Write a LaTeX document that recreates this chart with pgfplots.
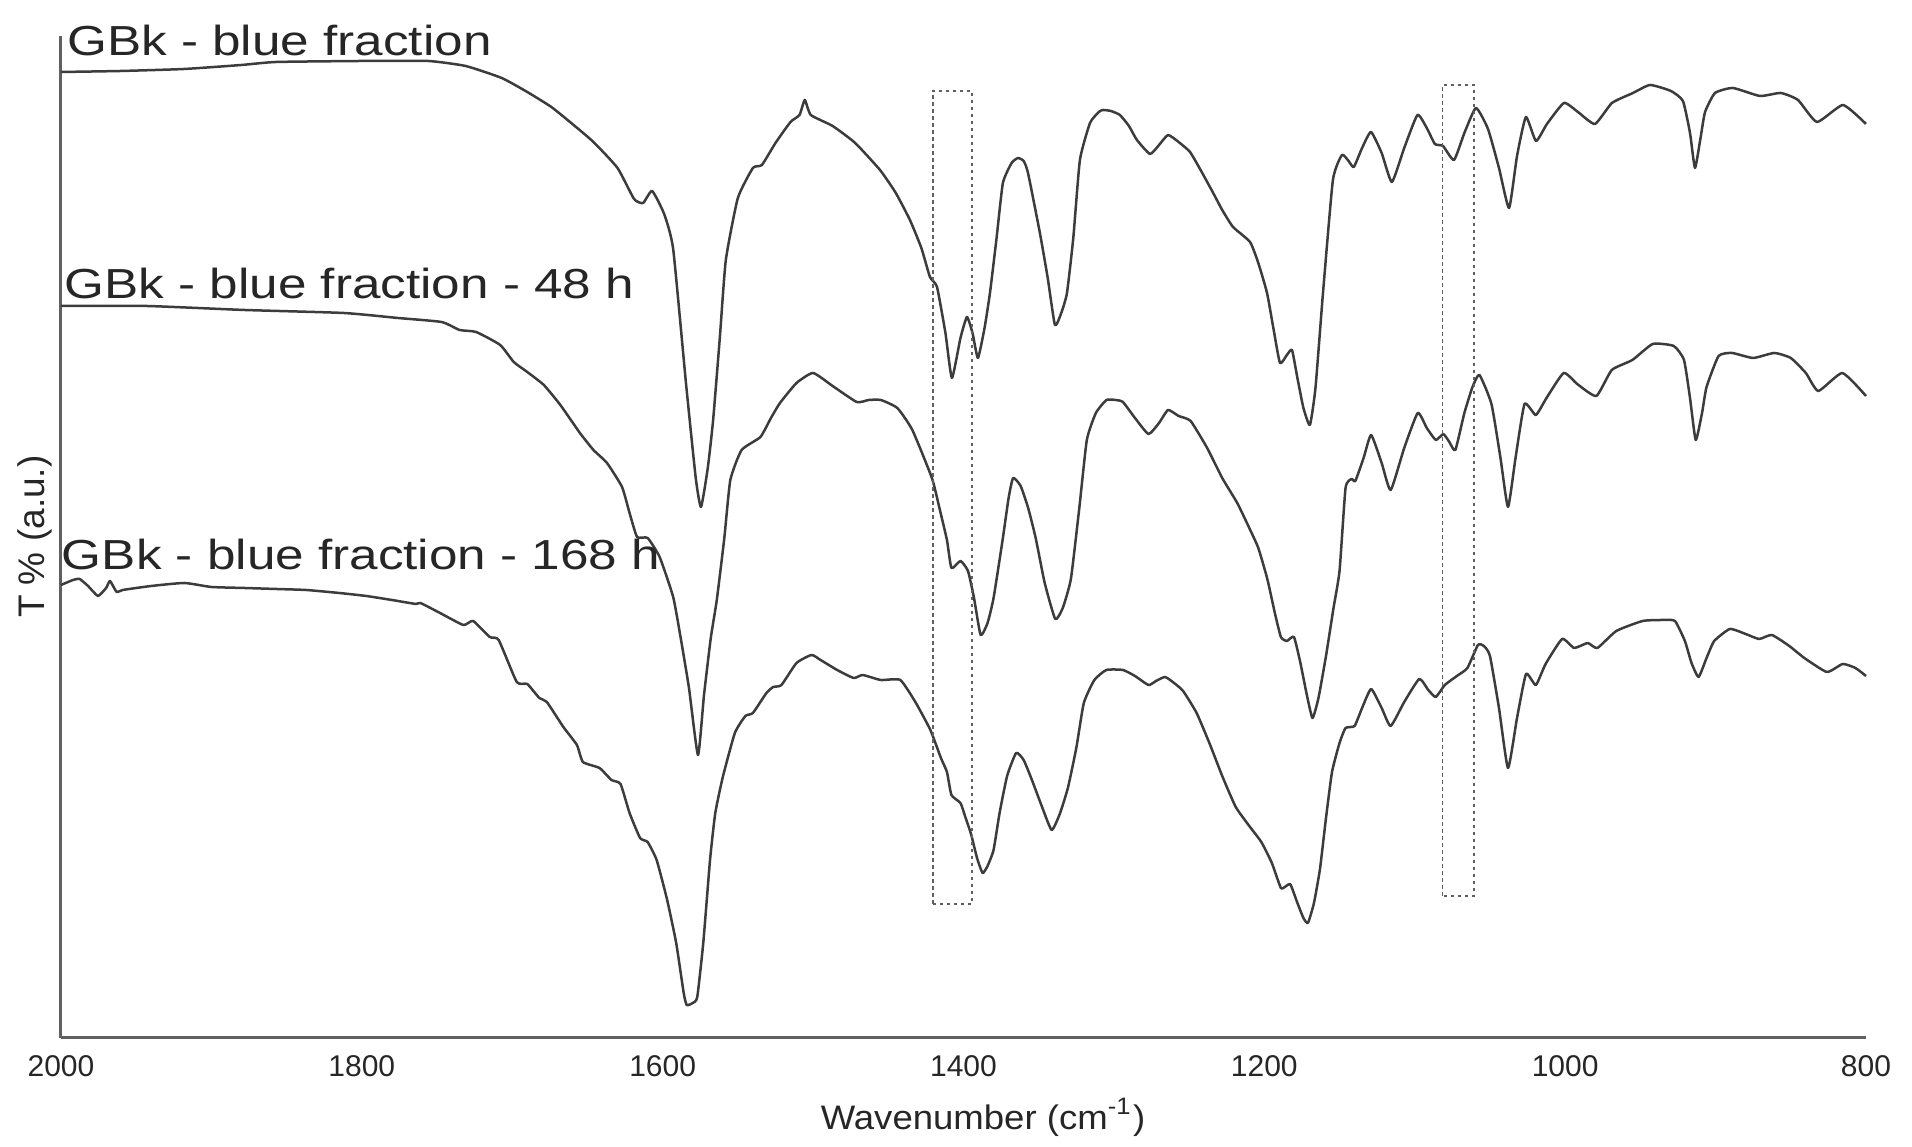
\documentclass[border=0pt]{standalone}
\usepackage{fontspec}
\setmainfont{Liberation Sans}
\newfontfamily\labfont[FakeStretch=1.22]{Liberation Sans}
\newfontfamily\axfont[FakeStretch=1.075]{Liberation Sans}
\usepackage{pgfplots}
\pgfplotsset{compat=1.18}
\definecolor{curve}{HTML}{3C3C3C}
\definecolor{spine}{HTML}{606060}
\pgfplotsset{spec/.style={color=curve, line width=0.5pt, mark=none, line join=round, smooth, tension=0.3}}
\begin{document}
\begin{tikzpicture}
\useasboundingbox (-12.2pt,-21.8pt) rectangle (370.2pt,207.6pt);
\begin{axis}[
  scale only axis,
  width=361pt, height=200.4pt,
  x dir=reverse,
  xmin=800, xmax=2000, ymin=0, ymax=1002,
  axis x line=bottom, axis y line=left,
  axis line style={-, spine, line width=0.6pt},
  xtick={800,1000,...,2000}, ytick=\empty,
  major tick length=0pt,
  /pgf/number format/assume math mode=true,
  /pgf/number format/1000 sep={},
  xticklabel style={font=\fontsize{6}{7}\selectfont, anchor=north, inner sep=0pt, yshift=-3.4pt, text=black!85},
  clip=false,
]
% Curve 1: GBk - blue fraction
\addplot[spec] coordinates {
(2000,966)(1960,967)(1918,969)(1880,973)(1857,976)(1800,977)(1756,977)(1731,972)(1707,960)(1690,946)
(1674,931)(1660,914)(1646,896)(1630,870)(1619,839)(1613,835)(1607,847)(1599,824)(1593,789)(1584.5,655)
(1578,560)(1574.5,531)(1570,570)(1566.5,617)(1562,700)(1558,778)(1550,840)(1540,870)(1534,873)(1525,895)
(1515,916)(1509,923)(1505.5,938)(1501.5,923)(1487,912)(1472,895)(1455.5,868)(1445,845)(1435.6,818)(1428,790)
(1422.3,761)(1417.6,751)(1412,705)(1407.7,660)(1402,700)(1397.7,721)(1394,705)(1390.4,680)(1386,710)(1382.4,745)
(1378,800)(1373.8,855)(1368,875)(1363.8,880)(1360,877)(1357.1,865)(1349.2,805)(1344,760)(1339.2,713)(1335,725)
(1331.2,745)(1327,800)(1322.6,878)(1315.9,915)(1310,926)(1307.3,928)(1302,927)(1296,923)(1290,912)(1284.7,898)
(1276,884)(1270,893)(1264,903)(1257,896)(1249.4,886)(1242,867)(1234,845)(1228,828)(1220.8,811)(1209.5,796)
(1204,775)(1198.2,745)(1194,710)(1189.6,675)(1185,683)(1181.6,688)(1178,660)(1174,630)(1169.7,613)(1166,650)
(1161,745)(1154.4,858)(1148.4,883)(1144,877)(1140.5,871)(1135,890)(1129.1,906)(1122,885)(1115.2,856)(1107,890)
(1098.2,923)(1092,910)(1086.6,894)(1081.2,892)(1073.9,878)(1067,905)(1059.3,930)(1051.3,909)(1044,870)(1037.3,830)
(1032,882)(1026.1,921)(1019.4,897)(1012.1,914)(1000.8,935)(991.5,926)(980.2,914)(968.9,935)(954.9,945)(943.6,953)
(929.7,947)(921.7,937)(917,905)(913.7,870)(910,900)(907,926)(900.4,945)(888.5,950)(870.5,942)(856.7,945)
(845.2,938)(832.6,916)(815.3,933)(800,914)
};
% Curve 2: 48 h
\addplot[spec] coordinates {
(2000,732)(1943,732)(1878,728)(1812,725)(1776,720)(1747,716)(1735,708)(1724,706)(1708,693)(1699,676)
(1690,666)(1679,653)(1668,633)(1655,605)(1646,588)(1637,575)(1627,551)(1622,525)(1617,501)(1610,500)
(1602,481)(1593,441)(1588,400)(1582.5,350)(1576.5,283)(1572.5,343)(1568,400)(1564,438)(1559,500)(1555,558)
(1547.5,588)(1535,601)(1528,620)(1522,635)(1511,655)(1500,665)(1487,652)
(1471,636)(1463,638)(1455,638)(1444,630)(1434,608)(1421,560)(1416,530)(1411,498)(1408,470)(1402,477)
(1397,467)(1393,440)(1388.6,403)(1384,415)(1380,440)(1374,498)(1370,540)(1367,560)(1362,552)(1357,530)
(1352,500)(1346,455)(1339,419)(1334,430)(1328.6,459)(1323,530)(1318,598)(1312,625)(1305,638)(1299,638)
(1294,636)(1286,620)(1277,604)(1270,615)(1264,628)(1257,622)(1249,617)(1238,590)(1228,560)(1218,535)
(1210,510)(1204,490)(1198,459)(1193,425)(1189,401)(1185,397)(1180.3,401)(1176,375)(1172,345)(1168,320)
(1164,340)(1159,382)(1154,430)(1150,467)(1146,550)(1142,559)(1139.5,557)(1134,580)(1129,603)(1122,575)
(1116,548)(1107,590)(1098,625)(1092,610)(1086,598)(1081,604)(1077,596)(1073,588)(1067,625)(1061.6,651)
(1057,663)(1049,634)(1043,580)(1038,531)(1033,580)(1027,634)(1019.5,623)(1012.4,640)(1001,665)(992,654)
(979.3,642)(969,668)(955.3,678)(941.8,694)(927.8,692)(921,678)(917,640)(913.2,598)(909,625)(906,651)
(898,682)(889,685)(875,680)(861,685)(850,680)(840,665)(831.7,647)(815.7,665)(800,642)
};
% Curve 3: 168 h
\addplot[spec] coordinates {
(2000,453)(1992,458)(1987.6,459)(1982,452)(1975.4,442)(1970,450)(1967.4,457)(1963,446)(1959,448)(1940,452)
(1918,455)(1900,451)(1878,450)(1857,449)(1837,448)(1815,445)(1797,442)(1780,438)(1764,434)(1761,435)
(1748,425)(1732.5,413)(1726,417)(1715,401)(1709,398)(1697,356)(1690,354)(1682,340)(1677,336)(1666,311)
(1657,293)(1653,276)(1642,270)(1634,258)(1628,254)(1622,225)(1615,200)(1610,196)(1604,178)(1597,138)
(1591,95)(1586,45)(1584,33)(1580,35)(1577,41)(1573,95)(1568.5,178)(1565,225)(1560,261)(1552,305)
(1545,322)(1540,325)(1531,345)(1526.5,351)(1521,353)(1511,375)(1501,383)(1495,378)(1484,368)(1473,360)
(1467,363)(1455,358)(1442,358)(1432,336)(1422,308)
(1415,280)(1411,266)(1408,243)(1402,235)(1399,222)(1395,204)(1391,180)(1387.3,165)(1384,172)(1380,188)
(1376,225)(1371,262)(1365,285)(1360,278)(1354.5,258)(1348,232)(1341.4,208)(1336,224)(1330.6,250)(1325,290)
(1320,335)(1313,358)(1305,368)(1294,368)(1286,362)(1277,353)(1272,357)(1266,361)(1260,355)(1254,347)
(1245,325)(1236,293)(1228,262)(1219,231)(1210,212)(1202,196)(1195,175)(1189,150)(1185.5,152)(1182.6,153.5)
(1178,135)(1174,120)(1171,115)(1167,135)(1163,169)(1159,220)(1155,266)(1150,295)(1146,310)(1140,312)
(1135,330)(1129,349)(1122,330)(1116,312)(1107,336)(1097,359)(1091,348)(1086,341)(1080,353)(1072,362)
(1065,370)(1058,393)(1054,392)(1050,382)(1044,330)(1038,270)(1032,320)(1026,364)(1019.5,353)(1013,374)
(1002,399)(994,390)(985,395)(978.6,390)(966,407)(948.5,417)(935,418)(927,417)(920.4,397)(916,375)
(911.3,361)(906,380)(900.9,397)(890.5,409)(880,404)(871,399)(862.6,403)(851,392)(841,380)(826,366)
(815.5,374)(807,370)(800,362)
};
% dashed boxes
\addplot[spine, line width=0.3pt, mark=none, dash pattern=on 0.7pt off 0.7pt] coordinates {
(1420.3,134)(1420.3,947)(1394.3,947)(1394.3,134)(1420.3,134)};
\addplot[spine, line width=0.3pt, mark=none, dash pattern=on 0.7pt off 0.7pt] coordinates {
(1081.5,142)(1081.5,953)(1060.7,953)(1060.7,142)(1081.5,142)};
% labels
\node[anchor=base west, inner sep=0pt, font=\labfont\fontsize{8.4}{9}\selectfont, text=black!85] at (axis cs:1996.5,982.5) {GBk - blue fraction};
\node[anchor=base west, inner sep=0pt, font=\labfont\fontsize{8.4}{9}\selectfont, text=black!85] at (axis cs:1998.2,739.5) {GBk - blue fraction - 48 h};
\node[anchor=base west, inner sep=0pt, font=\labfont\fontsize{8.4}{9}\selectfont, text=black!85] at (axis cs:2000,468) {GBk - blue fraction - 168 h};
\node[anchor=base, inner sep=0pt, font=\axfont\fontsize{6.8}{8}\selectfont, text=black!85] at (axis description cs:0.5108,-0.0918) {Wavenumber (cm\textsuperscript{-1})};
\node[anchor=base, rotate=90, inner sep=0pt, font=\fontsize{7.4}{8}\selectfont, text=black!85] at (axis description cs:-0.00886,0.5003) {T \% (a.u.)};
\end{axis}
\end{tikzpicture}
\end{document}
